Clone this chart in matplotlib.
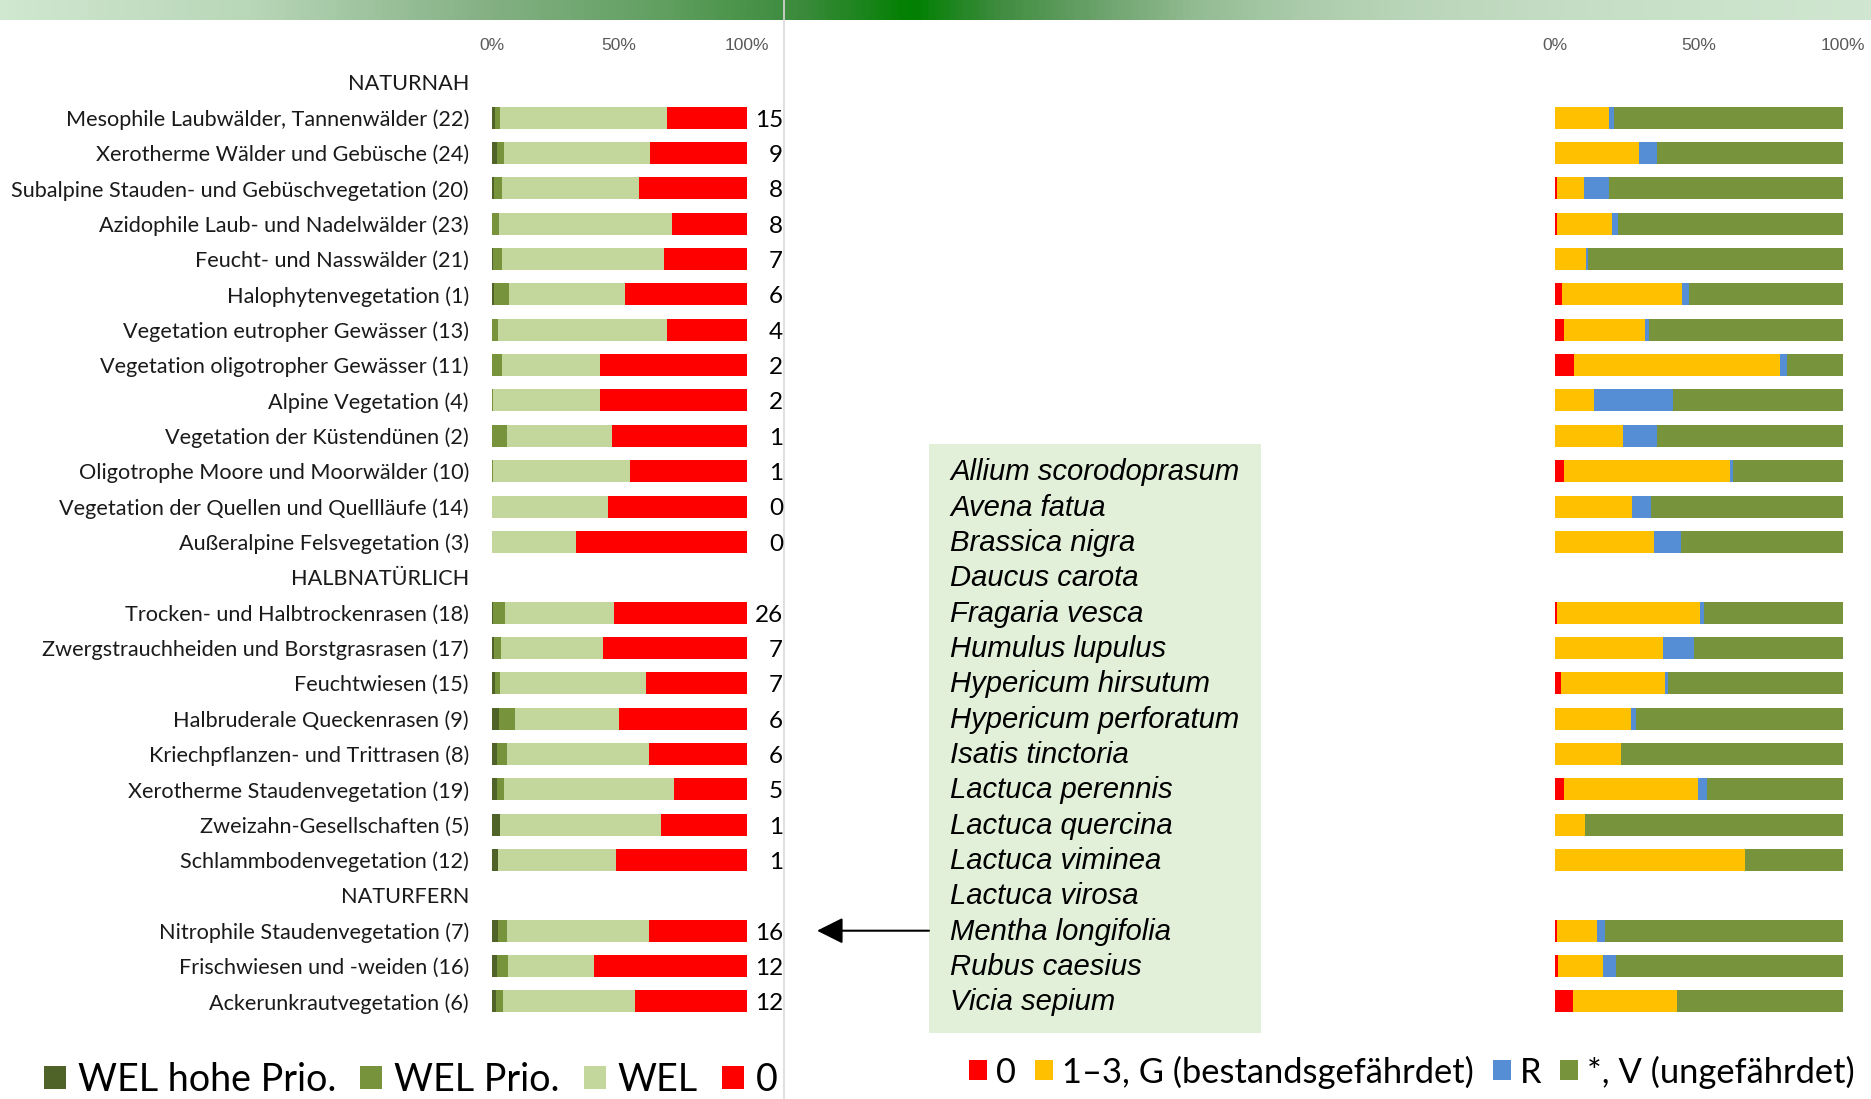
import numpy as np
import matplotlib
matplotlib.use("Agg")
import matplotlib.pyplot as plt
from matplotlib import font_manager as fm
from matplotlib.colors import LinearSegmentedColormap

# ---------------- data ----------------
groups = ["NATURNAH", "HALBNATÜRLICH", "NATURFERN"]
categories = [
    "Mesophile Laubwälder, Tannenwälder (22)",
    "Xerotherme Wälder und Gebüsche (24)",
    "Subalpine Stauden- und Gebüschvegetation (20)",
    "Azidophile Laub- und Nadelwälder (23)",
    "Feucht- und Nasswälder (21)",
    "Halophytenvegetation (1)",
    "Vegetation eutropher Gewässer (13)",
    "Vegetation oligotropher Gewässer (11)",
    "Alpine Vegetation (4)",
    "Vegetation der Küstendünen (2)",
    "Oligotrophe Moore und Moorwälder (10)",
    "Vegetation der Quellen und Quellläufe (14)",
    "Außeralpine Felsvegetation (3)",
    "Trocken- und Halbtrockenrasen (18)",
    "Zwergstrauchheiden und Borstgrasrasen (17)",
    "Feuchtwiesen (15)",
    "Halbruderale Queckenrasen (9)",
    "Kriechpflanzen- und Trittrasen (8)",
    "Xerotherme Staudenvegetation (19)",
    "Zweizahn-Gesellschaften (5)",
    "Schlammbodenvegetation (12)",
    "Nitrophile Staudenvegetation (7)",
    "Frischwiesen und -weiden (16)",
    "Ackerunkrautvegetation (6)",
]
group_of = [0] * 13 + [1] * 8 + [2] * 3

wel_hohe_prio = [1.3, 2.0, 0.8, 0.3, 0.4, 0.9, 0.0, 0.0, 0.0, 0.0, 0.0, 0.0, 0.0,
                 0.7, 0.9, 1.4, 2.9, 2.0, 2.0, 3.3, 2.4, 2.6, 2.1, 1.7]
wel_prio = [2.0, 2.8, 3.3, 2.4, 3.7, 5.8, 2.5, 4.2, 0.7, 5.9, 0.7, 0.0, 0.0,
            4.5, 2.6, 1.9, 6.1, 4.0, 2.8, 0.0, 0.0, 3.4, 4.3, 2.7]
wel = [65.3, 57.3, 53.7, 67.9, 63.5, 45.6, 66.4, 38.3, 41.7, 41.2, 53.7, 45.5, 32.9,
       42.6, 40.2, 57.1, 40.9, 55.8, 66.8, 63.2, 46.2, 55.7, 33.6, 51.8]
wel_null = [31.4, 37.9, 42.2, 29.4, 32.4, 47.7, 31.1, 57.5, 57.6, 52.9, 45.6, 54.5, 67.1,
            52.2, 56.3, 39.6, 50.1, 38.2, 28.4, 33.5, 51.4, 38.3, 60.0, 43.8]
counts = [15, 9, 8, 8, 7, 6, 4, 2, 2, 1, 1, 0, 0, 26, 7, 7, 6, 6, 5, 1, 1, 16, 12, 12]

rl_0 = [0.0, 0.0, 0.6, 0.7, 0.0, 2.3, 3.1, 6.5, 0.0, 0.0, 3.0, 0.0, 0.0,
        0.8, 0.0, 2.1, 0.0, 0.0, 3.1, 0.0, 0.0, 0.8, 1.2, 6.1]
rl_1_3_g = [18.6, 29.0, 9.3, 19.1, 10.8, 41.9, 28.2, 71.7, 13.4, 23.6, 57.7, 26.7, 34.5,
            49.5, 37.6, 36.1, 26.4, 22.8, 46.4, 10.4, 65.8, 13.8, 15.6, 36.2]
rl_r = [1.9, 6.3, 8.9, 1.9, 0.8, 2.4, 1.3, 2.4, 27.6, 11.8, 1.1, 6.7, 9.2,
        1.3, 10.7, 0.9, 1.6, 0.0, 3.1, 0.0, 0.0, 2.7, 4.5, 0.0]
rl_ungef = [79.5, 64.7, 81.2, 78.3, 88.4, 53.4, 67.4, 19.4, 59.0, 64.6, 38.2, 66.6, 56.3,
            48.4, 51.7, 60.9, 72.0, 77.2, 47.4, 89.6, 34.2, 82.7, 78.7, 57.7]

species = ["Allium scorodoprasum", "Avena fatua", "Brassica nigra", "Daucus carota",
           "Fragaria vesca", "Humulus lupulus", "Hypericum hirsutum",
           "Hypericum perforatum", "Isatis tinctoria", "Lactuca perennis",
           "Lactuca quercina", "Lactuca viminea", "Lactuca virosa",
           "Mentha longifolia", "Rubus caesius", "Vicia sepium"]

left_legend = ["WEL hohe Prio.", "WEL Prio.", "WEL", "0"]
right_legend = ["0", "1–3, G (bestandsgefährdet)", "R", "*, V (ungefährdet)"]
tick_vals = [0, 50, 100]
tick_labels = ["0%", "50%", "100%"]

# ---------------- styles ----------------
W, H = 1871, 1099
fig = plt.figure(figsize=(W / 100, H / 100), dpi=100)
fig.patch.set_facecolor("white")

names = {f.name for f in fm.fontManager.ttflist}
SANS = "Lato" if "Lato" in names else "DejaVu Sans"
NARROW = "Liberation Sans Narrow" if "Liberation Sans Narrow" in names else "Liberation Sans"
ITAL = "Liberation Sans"

left_colors = ["#4F6228", "#77933C", "#C3D69B", "#FF0000"]
right_colors = ["#FF0000", "#FFC000", "#558ED5", "#77933C"]


def fit(text, target_px, **kw):
    t = fig.text(0, 0, text, fontsize=20, **kw)
    w = t.get_window_extent(fig.canvas.get_renderer()).width
    t.remove()
    return 20 * target_px / w


fs_cat = fit("Subalpine Stauden- und Gebüschvegetation (20)", 460, family=SANS)
fs_num = 17.5
fs_tick = 12.5
fs_spec = fit("Allium scorodoprasum", 289, family=ITAL, style="italic")
fs_legL = fit("WEL hohe Prio.", 258, family=SANS)
fs_legR = fit("1–3, G (bestandsgefährdet)", 413, family=SANS)


def rect(x0, y0, x1, y1):
    return [x0 / W, 1 - y1 / H, (x1 - x0) / W, (y1 - y0) / H]


# ---------------- overlay (pixel coordinates) ----------------
ax0 = fig.add_axes([0, 0, 1, 1], zorder=0)
ax0.set_xlim(0, W)
ax0.set_ylim(H, 0)
ax0.axis("off")
ax0.patch.set_alpha(0)

stops = [(0.0, "#D0E7D0"), (0.13, "#B9D7B9"), (0.26, "#84B084"), (0.35, "#62A062"),
         (0.43, "#3A8A3A"), (0.488, "#008000"), (0.534, "#3F8C3F"), (0.588, "#6CA26C"),
         (0.64, "#93BC93"), (0.695, "#ABCBAB"), (0.75, "#B9D5B9"), (0.85, "#C6DEC6"),
         (1.0, "#D0E6D0")]
cmap = LinearSegmentedColormap.from_list("hdr", stops)
ax0.imshow(np.linspace(0, 1, 800)[None, :], cmap=cmap, extent=[0, W, 20.5, 0],
           aspect="auto", interpolation="bilinear")
ax0.plot([784, 784], [0, H], color="#D9D9D9", lw=1.2)

# ---------------- row layout ----------------
ROW0, DY = 82.3, 35.35
T, B = 60, 1025
rows, row_labels, cat_pos = [], [], []
idx = 0
for g, gname in enumerate(groups):
    rows.append(idx)
    row_labels.append(gname)
    idx += 1
    for c, cg in zip(categories, group_of):
        if cg == g:
            rows.append(idx)
            row_labels.append(c)
            cat_pos.append(idx)
            idx += 1
cat_pos = np.array(cat_pos)
ylim = ((B - ROW0) / DY, (T - ROW0) / DY)
bar_h = 22 / DY

# species box (lines share the row pitch, first line on row 11)
ax0.add_patch(plt.Rectangle((929, 444), 332, 589, facecolor="#E2EFD9", edgecolor="none"))
for i, s in enumerate(species):
    ax0.text(950, ROW0 + (11 + i) * DY + 1, s, family=ITAL, style="italic", fontsize=fs_spec,
             ha="left", va="center", color="black")
arrow_y = ROW0 + 24 * DY
ax0.annotate("", xy=(817, arrow_y), xytext=(929, arrow_y),
             arrowprops=dict(arrowstyle="-|>,head_length=0.8,head_width=0.4",
                             color="black", lw=1.5, mutation_scale=20, shrinkA=0, shrinkB=0))


def setup(ax):
    ax.set_xlim(0, 100)
    ax.set_ylim(*ylim)
    ax.patch.set_alpha(0)
    for sp in ax.spines.values():
        sp.set_visible(False)
    ax.xaxis.set_ticks_position("top")
    ax.set_xticks(tick_vals)
    ax.set_xticklabels(tick_labels, family=NARROW, fontsize=fs_tick, color="#595959")
    ax.tick_params(axis="x", length=0, pad=7 * 0.72)


# ---------------- left chart ----------------
axL = fig.add_axes(rect(491.7, T, 746.7, B), zorder=1)
setup(axL)
left = np.zeros(len(categories))
handlesL = []
for vals, col, lab in zip([wel_hohe_prio, wel_prio, wel, wel_null], left_colors, left_legend):
    v = np.array(vals)
    bc = axL.barh(cat_pos, v, left=left, height=bar_h, color=col, linewidth=0, label=lab)
    handlesL.append(bc)
    left = left + v
axL.set_yticks(rows)
axL.set_yticklabels(row_labels, family=SANS, fontsize=fs_cat, color="#1A1A1A")
axL.tick_params(axis="y", length=0, pad=22.7 * 0.72)
num_x = (783 - 491.7) / 255.0
for p, n in zip(cat_pos, counts):
    axL.text(num_x, p + 0.07, str(n), transform=axL.get_yaxis_transform(), ha="right",
             va="center", family=SANS, fontsize=fs_num, color="black")

# ---------------- right chart ----------------
axR = fig.add_axes(rect(1555, T, 1843.3, B), zorder=1)
setup(axR)
axR.set_yticks([])
left = np.zeros(len(categories))
handlesR = []
for vals, col, lab in zip([rl_0, rl_1_3_g, rl_r, rl_ungef], right_colors, right_legend):
    v = np.array(vals)
    bc = axR.barh(cat_pos, v, left=left, height=bar_h, color=col, linewidth=0, label=lab)
    handlesR.append(bc)
    left = left + v

# ---------------- legends ----------------
pxL = fs_legL * 100 / 72
fig.legend(handlesL, left_legend, loc="center left", bbox_to_anchor=(44 / W, 1 - 1080 / H),
           ncol=4, frameon=False, borderpad=0, borderaxespad=0,
           prop=dict(family=SANS, size=fs_legL),
           handlelength=22 / pxL, handleheight=22 / pxL, handletextpad=12 / pxL,
           columnspacing=24 / pxL)
pxR = fs_legR * 100 / 72
fig.legend(handlesR, right_legend, loc="center left", bbox_to_anchor=(969 / W, 1 - 1072 / H),
           ncol=4, frameon=False, borderpad=0, borderaxespad=0,
           prop=dict(family=SANS, size=fs_legR),
           handlelength=18 / pxR, handleheight=18 / pxR, handletextpad=9 / pxR,
           columnspacing=19 / pxR)

fig.savefig("out.png", dpi=100, facecolor="white")
